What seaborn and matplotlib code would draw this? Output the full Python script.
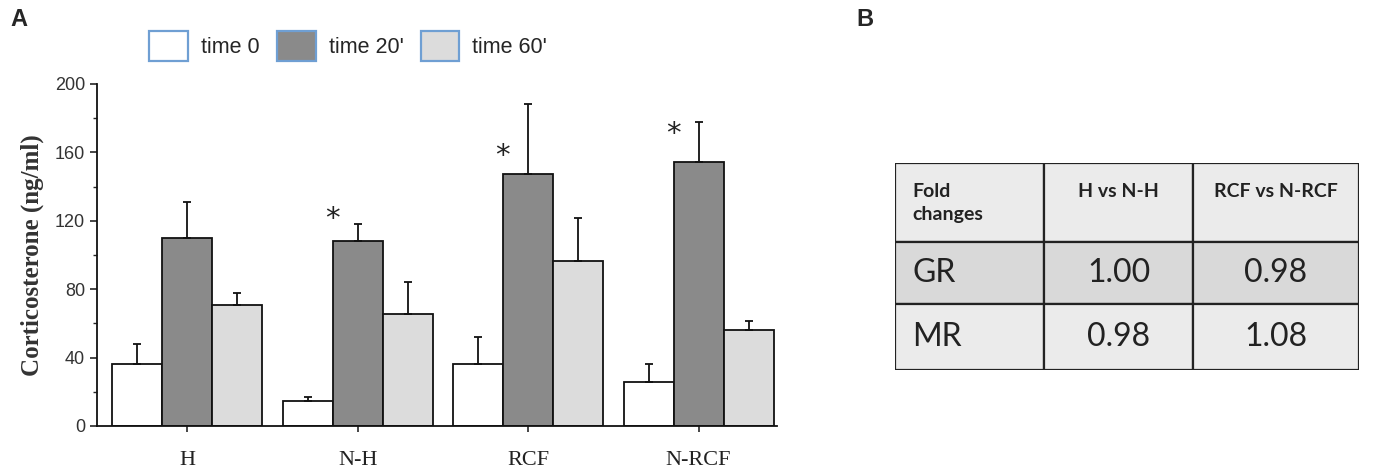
import matplotlib
matplotlib.use("Agg")
import matplotlib.pyplot as plt
import pandas as pd
import seaborn as sns
from matplotlib.patches import Patch, Rectangle

# panel A data (corticosterone, ng/ml)
groups = ["H", "N-H", "RCF", "N-RCF"]
times = ["time 0", "time 20'", "time 60'"]
time0 = [36, 14.5, 36.5, 25.5]
time20 = [110, 108, 147.5, 154.5]
time60 = [70.5, 65.5, 96.5, 56]
err0 = [12, 2.5, 15.5, 10.5]
err20 = [21, 10, 41, 23.5]
err60 = [7.5, 19, 25, 5.5]
star_y = [None, 121, 158, 171]

# panel B data (fold changes)
tab_cols = ["Fold\nchanges", "H vs N-H", "RCF vs N-RCF"]
tab_rows = ["GR", "MR"]
tab_vals = [["1.00", "0.98"], ["0.98", "1.08"]]

df = pd.DataFrame({
    "group": groups * 3,
    "time": [t for t in times for _ in groups],
    "value": time0 + time20 + time60,
    "err": err0 + err20 + err60,
})

sns.set_style("white")
plt.rcParams["font.family"] = ["Liberation Serif", "DejaVu Serif"]

fig = plt.figure(figsize=(13.75, 4.75), dpi=100)
ax = fig.add_axes([97 / 1375, 49 / 475, 680 / 1375, 342 / 475])

colors = ["#ffffff", "#8a8a8a", "#dcdcdc"]
sns.barplot(data=df, x="group", y="value", hue="time", hue_order=times,
            order=groups, palette=colors, width=0.88, edgecolor="#111111",
            linewidth=1.3, errorbar=None, legend=False, ax=ax)

# upper error bars, from the bar geometry seaborn laid out
for bar, e in zip(ax.patches, df["err"]):
    xc = bar.get_x() + bar.get_width() / 2
    ax.errorbar(xc, bar.get_height(), yerr=[[0], [e]], fmt="none",
                ecolor="#111111", elinewidth=1.3, capsize=3, capthick=1.3)

for i, s in enumerate(star_y):
    if s is not None:
        ax.text(i - 0.15, s, "*", ha="center", va="center", fontsize=21,
                family=["DejaVu Sans"], color="#222222")

ax.set_xlim(-0.53, 3.46)
ax.set_ylim(0, 200)
ax.set_yticks([0, 40, 80, 120, 160, 200])
ax.set_yticks([20, 60, 100, 140, 180], minor=True)
ax.tick_params(axis="y", which="major", direction="out", length=5, width=1.2,
               labelsize=13, left=True)
ax.tick_params(axis="y", which="minor", direction="out", length=3, width=1, left=True)
ax.tick_params(axis="x", direction="out", length=4, width=1.2, labelsize=16,
               bottom=True, pad=14)
for lab in ax.get_yticklabels():
    lab.set_family(["Liberation Sans"])
    lab.set_color("#333333")
for lab in ax.get_xticklabels():
    lab.set_color("#222222")
ax.set_xlabel("")
ax.set_ylabel("Corticosterone (ng/ml)", fontsize=18, fontweight="bold",
              labelpad=8, color="#333333")
sns.despine(ax=ax)
for sp in ["left", "bottom"]:
    ax.spines[sp].set_linewidth(1.3)
    ax.spines[sp].set_color("#111111")

handles = [Patch(facecolor=c, edgecolor="#6f9fd3", linewidth=1.6) for c in colors]
fig.legend(handles, times, loc="center left", bbox_to_anchor=(130 / 1375, 1 - 46 / 475),
           ncol=3, frameon=False, handlelength=1.8, handleheight=1.8,
           handletextpad=0.6, columnspacing=0.8,
           prop={"family": "Liberation Sans", "size": 15.5})

fig.text(10 / 1375, 1 - 20 / 475, "A", fontsize=17, fontweight="bold",
         family=["Liberation Sans"], va="center")
fig.text(856 / 1375, 1 - 20 / 475, "B", fontsize=17, fontweight="bold",
         family=["Liberation Sans"], va="center")

# panel B table
tx = fig.add_axes([895 / 1375, (475 - 370) / 475, (1359 - 895) / 1375, (370 - 163) / 475])
col_w = [149, 149, 166]
row_h = [79, 62, 66]
tx.set_xlim(0, sum(col_w))
tx.set_ylim(sum(row_h), 0)
tx.axis("off")
row_bg = ["#ebebeb", "#d9d9d9", "#ebebeb"]
cell_font = ["Lato", "DejaVu Sans"]
y0 = 0
for r in range(3):
    x0 = 0
    for c in range(3):
        tx.add_patch(Rectangle((x0, y0), col_w[c], row_h[r], facecolor=row_bg[r],
                               edgecolor="#222222", linewidth=1.6))
        if r == 0:
            if c == 0:
                tx.text(x0 + 17, y0 + 20, tab_cols[c], ha="left", va="top",
                        fontsize=14, fontweight="bold", family=cell_font,
                        linespacing=1.45, color="#222222")
            else:
                tx.text(x0 + col_w[c] / 2, y0 + 20, tab_cols[c], ha="center", va="top",
                        fontsize=14, fontweight="bold", family=cell_font, color="#222222")
        else:
            if c == 0:
                tx.text(x0 + 17, y0 + row_h[r] / 2, tab_rows[r - 1], ha="left",
                        va="center", fontsize=23, family=cell_font, color="#222222")
            else:
                tx.text(x0 + col_w[c] / 2, y0 + row_h[r] / 2, tab_vals[r - 1][c - 1],
                        ha="center", va="center", fontsize=23, family=cell_font,
                        color="#222222")
        x0 += col_w[c]
    y0 += row_h[r]

fig.savefig("out.png", dpi=100, facecolor="white")
